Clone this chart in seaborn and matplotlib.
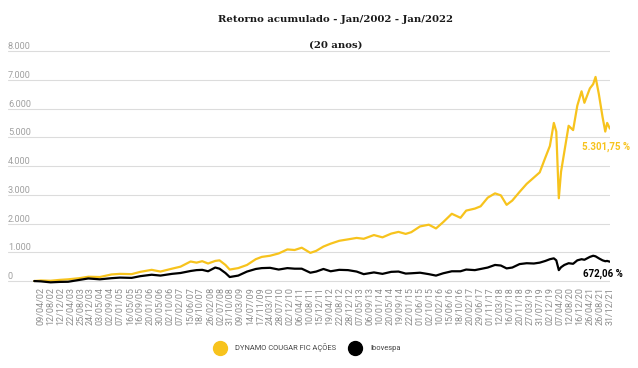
import pandas as pd
import numpy as np
import seaborn as sns
import matplotlib
matplotlib.use("Agg")
import matplotlib.pyplot as plt
from matplotlib.lines import Line2D

# values (accumulated return, %)
dates = [
    "2002-01-15", "2002-04-08", "2002-08-10", "2002-12-01", "2003-03-20", "2003-08-10",
    "2003-12-01", "2004-04-25", "2004-09-20", "2005-01-05", "2005-06-01", "2005-09-20",
    "2006-02-10", "2006-06-01", "2006-10-25", "2007-02-10", "2007-06-18", "2007-09-01",
    "2007-11-12", "2008-01-25", "2008-04-25", "2008-06-18", "2008-09-01", "2008-10-25",
    "2009-02-10", "2009-06-01", "2009-09-20", "2009-12-05", "2010-03-20", "2010-07-07",
    "2010-10-25", "2011-01-25", "2011-04-25", "2011-08-12", "2011-10-25", "2012-01-25",
    "2012-04-25", "2012-08-12", "2012-12-01", "2013-03-20", "2013-06-18", "2013-10-25",
    "2014-02-10", "2014-06-01", "2014-09-01", "2014-12-01", "2015-02-10", "2015-06-01",
    "2015-09-20", "2015-12-20", "2016-03-20", "2016-07-07", "2016-10-25", "2017-01-05",
    "2017-04-25", "2017-07-07", "2017-10-05", "2018-01-05", "2018-03-20", "2018-06-01",
    "2018-08-12", "2018-11-12", "2019-02-10", "2019-05-12", "2019-07-25", "2019-10-05",
    "2019-12-01", "2020-01-20", "2020-02-20", "2020-03-23", "2020-04-20", "2020-06-01",
    "2020-07-25", "2020-09-20", "2020-11-12", "2021-01-05", "2021-02-10", "2021-04-20",
    "2021-06-01", "2021-07-01", "2021-08-12", "2021-09-28", "2021-11-01", "2021-11-25",
    "2021-12-30",
]
dynamo = [
    0, 20, 10, 40, 60, 100,
    150, 140, 230, 250, 240, 320,
    390, 330, 430, 500, 680, 640,
    690, 610, 700, 720, 560, 400,
    450, 560, 760, 840, 880, 960,
    1100, 1080, 1160, 980, 1050, 1200,
    1300, 1400, 1450, 1500, 1470, 1600,
    1520, 1650, 1710, 1640, 1700, 1900,
    1960, 1830, 2050, 2340, 2200, 2450,
    2520, 2600, 2900, 3050, 2980, 2650,
    2800, 3100, 3380, 3600, 3780, 4300,
    4700, 5500, 5200, 2880, 3800, 4500,
    5400, 5250, 6100, 6600, 6200, 6700,
    6850, 7100, 6500, 5700, 5200, 5500,
    5301.75,
]
ibovespa = [
    0, -10, -45, -30, -25, 40,
    90, 60, 100, 120, 110, 170,
    220, 190, 250, 280, 350, 380,
    390, 340, 470, 430, 280, 140,
    190, 330, 420, 450, 460, 400,
    450, 430, 430, 290, 330, 420,
    340, 390, 380, 330, 240, 300,
    250, 320, 330, 260, 270, 290,
    240, 190, 270, 340, 340, 400,
    380, 420, 470, 560, 540, 440,
    470, 590, 620, 610, 640, 700,
    760, 790, 720, 380, 480, 560,
    620, 600, 720, 760, 740, 840,
    880, 860, 790, 720, 690, 700,
    672.06,
]
series_names = ["DYNAMO COUGAR FIC AÇÕES", "Ibovespa"]
series_colors = ["#F7C31D", "#000000"]
final_labels = ["5.301,75 %", "672,06 %"]

tick_dates = [
    "09/04/02", "12/08/02", "12/12/02", "22/04/03", "25/08/03", "24/12/03", "03/05/04",
    "02/09/04", "07/01/05", "16/05/05", "16/09/05", "20/01/06", "30/05/06", "02/10/06",
    "07/02/07", "15/06/07", "18/10/07", "26/02/08", "02/07/08", "31/10/08", "09/03/09",
    "14/07/09", "17/11/09", "24/03/10", "28/07/10", "02/12/10", "06/04/11", "10/08/11",
    "15/12/11", "19/04/12", "22/08/12", "28/12/12", "07/05/13", "06/09/13", "10/01/14",
    "20/05/14", "19/09/14", "22/01/15", "01/06/15", "02/10/15", "10/02/16", "15/06/16",
    "18/10/16", "20/02/17", "29/06/17", "01/11/17", "12/03/18", "16/07/18", "20/11/18",
    "27/03/19", "31/07/19", "02/12/19", "07/04/20", "12/08/20", "16/12/20", "26/04/21",
    "26/08/21", "31/12/21",
]

df = pd.DataFrame({"date": pd.to_datetime(dates), series_names[0]: dynamo, series_names[1]: ibovespa})
long = df.melt(id_vars="date", var_name="serie", value_name="ret")

sns.set_theme(style="white")
plt.rcParams["font.family"] = ["Roboto", "DejaVu Sans"]

fig = plt.figure(figsize=(6.38, 3.68), dpi=100)
ax = fig.add_axes([8 / 638, 1 - 284.5 / 368, 602 / 638, (284.5 - 49.6) / 368])

sns.lineplot(data=long, x="date", y="ret", hue="serie", palette=series_colors,
             hue_order=series_names, linewidth=1.6, legend=False, ax=ax)

ax.set_xlim(pd.Timestamp("2001-02-17"), pd.Timestamp("2021-12-31"))
ax.set_ylim(-120, 8050)
ax.set_xlabel("")
ax.set_ylabel("")
for s in ax.spines.values():
    s.set_visible(False)

# grid + y labels sitting on top of gridlines
yt = np.arange(0, 8001, 1000)
ax.set_yticks(yt)
ax.set_yticklabels([f"{v:,.0f}".replace(",", ".") for v in yt])
ax.yaxis.grid(True, color="#dcdcdc", linewidth=0.8)
ax.tick_params(axis="y", length=0, pad=0, labelsize=6.6, labelcolor="#a0a0a0")
for lbl in ax.get_yticklabels():
    lbl.set_horizontalalignment("left")
    lbl.set_verticalalignment("bottom")

tick_pos = pd.to_datetime(tick_dates, format="%d/%m/%y")
ax.set_xticks(tick_pos)
ax.set_xticklabels(tick_dates, rotation=90)
ax.tick_params(axis="x", length=0, pad=2, labelsize=6.5, labelcolor="#8c8c8c")

# end-of-series labels
ax.annotate(final_labels[0], xy=(df["date"].iloc[-1], dynamo[-1]), xytext=(-28, -18),
            textcoords="offset pixels", ha="left", va="center", fontsize=7,
            fontweight="bold", color=series_colors[0])
ax.annotate(final_labels[1], xy=(df["date"].iloc[-1], ibovespa[-1]), xytext=(-27, -12),
            textcoords="offset pixels", ha="left", va="center", fontsize=7,
            fontweight="bold", color=series_colors[1])

fig.text(336 / 638, 1 - 20 / 368, "Retorno acumulado - Jan/2002 - Jan/2022", ha="center",
         va="center", fontsize=7.3, family="DejaVu Serif", fontweight="bold", color="#1a1a1a")
fig.text(336 / 638, 1 - 45 / 368, "(20 anos)", ha="center", va="center", fontsize=7.3,
         family="DejaVu Serif", fontweight="bold", color="#1a1a1a")

handles = [Line2D([], [], marker="o", linestyle="", markersize=10, color=c) for c in series_colors]
fig.legend(handles, series_names, loc="center", bbox_to_anchor=(306.5 / 638, 1 - 348 / 368),
           ncol=2, frameon=False, fontsize=5.4, handletextpad=1.0, columnspacing=1.5,
           labelcolor="#444444")

fig.savefig("out.png", dpi=100)
